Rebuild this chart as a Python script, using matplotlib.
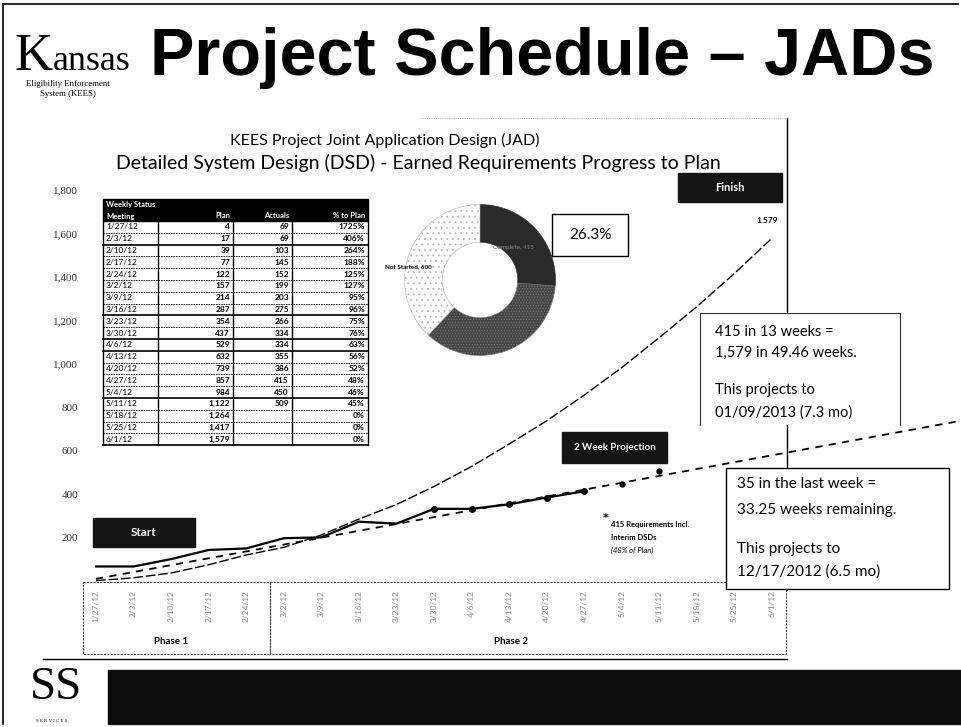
import matplotlib
matplotlib.use('Agg')
import matplotlib.pyplot as plt
from matplotlib.patches import Rectangle

# weekly JAD meetings (x axis categories / table rows)
weeks = ['1/27/12', '2/3/12', '2/10/12', '2/17/12', '2/24/12', '3/2/12', '3/9/12',
         '3/16/12', '3/23/12', '3/30/12', '4/6/12', '4/13/12', '4/20/12', '4/27/12',
         '5/4/12', '5/11/12', '5/18/12', '5/25/12', '6/1/12']
plan = [4, 17, 39, 77, 122, 157, 214, 287, 354, 437, 529, 632, 739, 857, 984,
        1122, 1264, 1417, 1579]
actuals = [69, 69, 103, 145, 152, 199, 203, 275, 266, 334, 334, 355, 386, 415]
projection = [450, 509]          # 2 week projection (weeks 15-16)
trend_x = [0, 22.9]              # straight-line projection, end points
trend_y = [12, 735]
donut_labels = ['Complete', 'In Progress', 'Not Started']
donut_values = [415, 564, 600]
yticks = [200, 400, 600, 800, 1000, 1200, 1400, 1600, 1800]
phases = ['Phase 1', 'Phase 2']

W, H = 961, 727
SERIF = 'Liberation Serif'
CAL = 'Lato'
plt.rcParams['hatch.linewidth'] = 0.5

fig = plt.figure(figsize=(W / 100, H / 100), dpi=100)

# ---- main line chart, placed so the data lands where it does on the slide
ax = fig.add_axes([85 / W, 1 - 583 / H, (787 - 85) / W, (583 - 118) / H], zorder=2)
ax.patch.set_alpha(0)
ax.set_xlim(-0.293, 18.397)
ax.set_ylim(-6.9, 2131)
for s in ax.spines.values():
    s.set_visible(False)

idx = list(range(len(weeks)))
ax.plot(idx, plan, color='black', lw=1.0, ls=(0, (7, 2)))
ax.plot(idx[:len(actuals)], actuals, color='black', lw=1.6)
ax.plot(idx[9:len(actuals)], actuals[9:], 'o', color='black', ms=4)
proj_x = idx[len(actuals):len(actuals) + len(projection)]
ax.plot(proj_x, projection, 'o', color='black', ms=3.5)
ax.plot(trend_x, trend_y, color='black', lw=1.3, ls=(0, (4, 3.5)), clip_on=False)

ax.set_yticks(yticks)
ax.set_yticklabels([f'{v:,}' for v in yticks], fontsize=8, family=SERIF, color='#333')
ax.tick_params(axis='y', length=0, pad=5)
ax.set_xticks(idx)
ax.set_xticklabels(weeks, rotation=90, fontsize=6, color='#888', family=CAL)
ax.tick_params(axis='x', length=0, pad=5)

ax.annotate(f'{plan[-1]:,}'.replace(',', '.'), (idx[-1], plan[-1]),
            xytext=(-5, 18), textcoords='offset pixels', ha='center', va='center',
            fontsize=6, weight='bold', family=CAL)

# ---- donut of requirement status
dax = fig.add_axes([403 / W, 1 - 357 / H, 154 / W, 154 / H], zorder=2.5)
wedges, _ = dax.pie(donut_values, startangle=90, counterclock=False,
                    colors=['#2a2a2a', '#454545', 'white'],
                    wedgeprops=dict(width=0.5, linewidth=0.4))
wedges[0].set_edgecolor('#2a2a2a')
wedges[1].set_hatch('......')
wedges[1].set_edgecolor('#7a7a7a')
wedges[2].set_hatch('...')
wedges[2].set_edgecolor('#b0b0b0')
dax.set_xlim(-1.02, 1.02)
dax.set_ylim(-1.02, 1.02)
dax.set_aspect('equal')

# ---- overlay in slide pixels for the slide decoration
ov = fig.add_axes([0, 0, 1, 1], zorder=3)
ov.set_xlim(0, W)
ov.set_ylim(H, 0)
ov.axis('off')
ov.patch.set_alpha(0)

# slide frame
ov.plot([3, 3], [4, 724], color='black', lw=1.2)
ov.plot([3, 958], [4, 4], color='black', lw=1.2)

# header
ov.text(15, 70, 'K', fontsize=38, family=SERIF, va='baseline')
ov.text(53, 70, 'ansas', fontsize=26, family=SERIF, va='baseline')
ov.text(68, 84, 'Eligibility Enforcement', fontsize=6.3, family=SERIF, ha='center', va='center')
ov.text(68, 94, 'System (KEES)', fontsize=6.3, family=SERIF, ha='center', va='center')
ov.text(542, 75, 'Project Schedule \u2013 JADs', fontsize=48, weight='bold',
        family='Liberation Sans', ha='center', va='baseline')

# chart titles
ov.text(385, 140, 'KEES Project Joint Application Design (JAD)', fontsize=11.5,
        family=CAL, ha='center', va='center')
ov.text(418, 163, 'Detailed System Design (DSD) - Earned Requirements Progress to Plan',
        fontsize=14, family=CAL, ha='center', va='center')

# chart frame lines
ov.plot([787, 787], [118, 590], color='black', lw=1.0, zorder=1)
ov.plot([420, 787], [118, 118], color='#999', lw=0.6, ls=':', zorder=1)
ov.plot([43, 787], [659, 659], color='black', lw=1.0)

# phase boxes under the axis
ov.add_patch(Rectangle((83, 582), 270 - 83, 654 - 582, fill=False, ec='#444', lw=0.8, ls=(0, (2, 1))))
ov.add_patch(Rectangle((270, 582), 786 - 270, 654 - 582, fill=False, ec='#444', lw=0.8, ls=(0, (2, 1))))
ov.text(171, 641, phases[0], fontsize=7, weight='bold', family=CAL, ha='center', va='center')
ov.text(511, 641, phases[1], fontsize=7, weight='bold', family=CAL, ha='center', va='center')


def black_tag(x0, y0, x1, y1, label, size):
    ov.add_patch(Rectangle((x0, y0), x1 - x0, y1 - y0, color='#141414', zorder=4))
    ov.text((x0 + x1) / 2, (y0 + y1) / 2, label, color='white', fontsize=size,
            weight='bold', family=CAL, ha='center', va='center', zorder=5)


black_tag(93, 518, 195, 547, 'Start', 8.5)
black_tag(678, 173, 782, 202, 'Finish', 8)
black_tag(562, 432, 667, 463, '2 Week Projection', 7)

# weekly status table
cols = [103, 158, 233, 292, 368]
top, hdr, rh = 199, 221, 11.8
ov.add_patch(Rectangle((cols[0], top), cols[-1] - cols[0], hdr - top, color='black', zorder=4))
ov.text(cols[0] + 3, 205, 'Weekly Status', color='white', fontsize=5.5, weight='bold', family=CAL, va='center', zorder=5)
ov.text(cols[0] + 3, 216, 'Meeting', color='white', fontsize=5.5, weight='bold', family=CAL, va='center', zorder=5)
for c, name in zip(cols[2:], ['Plan', 'Actuals', '% to Plan']):
    ov.text(c - 3, 216, name, color='white', fontsize=5.5, weight='bold', family=CAL,
            ha='right', va='center', zorder=5)
table_actual = actuals + projection
bottom = hdr + rh * len(weeks)
for i, wk in enumerate(weeks):
    yc = hdr + rh * (i + 0.5)
    ov.text(cols[0] + 3, yc, wk, fontsize=6, family=CAL, va='center')
    ov.text(cols[2] - 3, yc, f'{plan[i]:,}', fontsize=6, weight='bold', family=CAL, ha='right', va='center')
    if i < len(table_actual):
        ov.text(cols[3] - 3, yc, f'{table_actual[i]:,}', fontsize=6, weight='bold', family=CAL, ha='right', va='center')
        pct = round(100 * table_actual[i] / plan[i])
    else:
        pct = 0
    ov.text(cols[4] - 3, yc, f'{pct}%', fontsize=6, weight='bold', family=CAL, ha='right', va='center')
    yl = hdr + rh * (i + 1)
    thick = i + 1 in (2, 8, 10, 11, 15, 19)
    ov.plot([cols[0], cols[-1]], [yl, yl], color='black',
            lw=1.2 if thick else 0.6, ls='-' if thick else (0, (2, 1)))
for c in cols:
    ov.plot([c, c], [hdr, bottom], color='black', lw=1.0)

# donut labels and share box
ov.text(385, 267, f'{donut_labels[2]}, {donut_values[2]}', fontsize=4.5, weight='bold',
        family=CAL, va='center', zorder=6)
ov.text(493, 247, f'{donut_labels[0]}, {donut_values[0]}', fontsize=4.5, weight='bold',
        family=CAL, va='center', color='#777', zorder=6)
ov.add_patch(Rectangle((552, 214), 76, 42, fc='white', ec='black', lw=1.0))
ov.text(590, 235, f'{100 * donut_values[0] / sum(donut_values):.1f}%', fontsize=11,
        family=CAL, ha='center', va='center')

# projection notes
ov.add_patch(Rectangle((700, 313), 200, 112, fc='white', ec='none', zorder=2))
ov.plot([700, 700, 900, 900], [425, 313, 313, 425], color='#333', lw=0.8, zorder=3)
for y, t in zip([332, 353, 390, 413], ['415 in 13 weeks =', '1,579 in 49.46 weeks.',
                                       'This projects to', '01/09/2013 (7.3 mo)']):
    ov.text(715, y, t, fontsize=10.5, family=CAL, va='center', zorder=3)

ov.add_patch(Rectangle((726, 468), 223, 121, fc='white', ec='black', lw=1.0, zorder=2))
for y, t in zip([484, 510, 549, 572], ['35 in the last week =', '33.25 weeks remaining.',
                                       'This projects to', '12/17/2012 (6.5 mo)']):
    ov.text(737, y, t, fontsize=11, family=CAL, va='center', zorder=3)

ov.text(606, 518, '*', fontsize=8, weight='bold', ha='center', va='center')
ov.text(611, 524, '415 Requirements Incl.', fontsize=5.5, weight='bold', family=CAL, va='center')
ov.text(611, 537, 'Interim DSDs', fontsize=5.5, weight='bold', family=CAL, va='center')
ov.text(611, 550, '(48% of Plan)', fontsize=5.5, style='italic', family=CAL, va='center')

# footer
ov.add_patch(Rectangle((108, 670), W - 108, 54, color='#0c0c0c'))
ov.text(56, 688, 'SS', fontsize=34, family=SERIF, ha='center', va='center')
ov.text(52, 721, 'S E R V I C E S', fontsize=3.5, family=SERIF, ha='center', va='center')

fig.savefig('out.png', dpi=100)
